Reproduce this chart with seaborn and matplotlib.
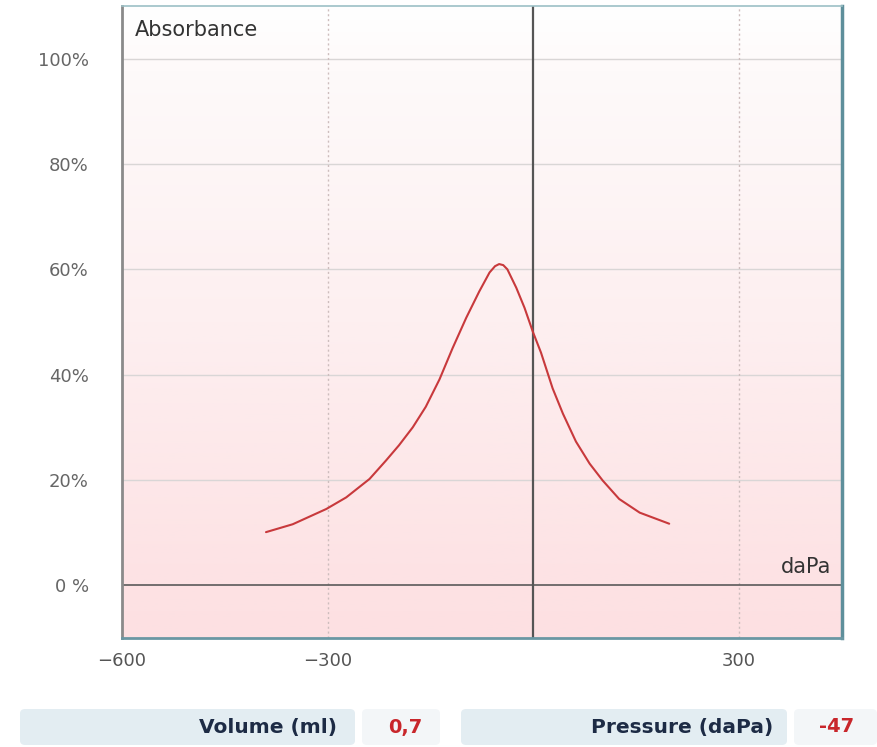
import numpy as np
import pandas as pd
import matplotlib
matplotlib.use("Agg")
import matplotlib.pyplot as plt
import seaborn as sns
from matplotlib.colors import LinearSegmentedColormap
from matplotlib.patches import FancyBboxPatch

# ---- data ----
pressure = [-390, -351, -302, -273, -239, -215, -196, -176, -157, -137, -118, -98, -79,
            -64, -56, -50, -44, -38, -25, -13, -1, 11, 28, 43, 62, 82, 101, 125, 155, 198]
absorbance = [10.1, 11.6, 14.5, 16.7, 20.2, 23.7, 26.6, 30.0, 33.9, 39.1, 45.0, 50.8, 55.8,
              59.4, 60.6, 61.0, 60.8, 60.0, 56.5, 52.7, 48.2, 44.2, 37.4, 32.6, 27.3, 23.1,
              19.9, 16.4, 13.8, 11.7]
y_ticks = [0, 20, 40, 60, 80, 100]
y_labels = ["0 %", "20%", "40%", "60%", "80%", "100%"]
x_ticks = [-600, -300, 300]
x_labels = ["\u2212600", "\u2212300", "300"]
table_labels = ["Volume (ml)", "Pressure (daPa)"]
table_values = ["0,7", "-47"]

df = pd.DataFrame({"pressure": pressure, "absorbance": absorbance})

sns.set_theme(style="white")
plt.rcParams["font.family"] = ["DejaVu Sans"]

fig = plt.figure(figsize=(8.77, 7.47), dpi=100)
ax = fig.add_axes([122 / 877, 1 - 638 / 747, (842 - 122) / 877, (638 - 6) / 747])

xmin, xmax, ymin, ymax = -600, 450, -10, 110

# gradient background
cmap = LinearSegmentedColormap.from_list(
    "bg", [(0.0, "#fde0e2"), (0.083, "#fde2e4"), (0.5, "#fdeff0"), (0.9, "#fefafa"), (1.0, "#ffffff")])
grad = np.linspace(0, 1, 256).reshape(-1, 1)
ax.imshow(grad, extent=[xmin, xmax, ymin, ymax], origin="lower", aspect="auto",
          cmap=cmap, zorder=0, interpolation="bilinear")

# grid
for yv in y_ticks[1:]:
    ax.axhline(yv, color="#d9d6d6", lw=1.0, zorder=1)
ax.axhline(0, color="#5a5a5a", lw=1.2, zorder=2)
for xv in [-300, 300]:
    ax.axvline(xv, color="#cdbdbd", lw=1.0, ls=(0, (1.5, 2)), zorder=1)
ax.axvline(0, color="#555555", lw=1.6, zorder=2)

sns.lineplot(data=df, x="pressure", y="absorbance", ax=ax, color="#c8393c", lw=1.5,
             sort=False, zorder=3)

ax.set_xlim(xmin, xmax)
ax.set_ylim(ymin, ymax)
ax.set_xticks(x_ticks)
ax.set_xticklabels(x_labels, color="#555555", fontsize=13)
ax.set_yticks(y_ticks)
ax.set_yticklabels(y_labels, color="#666666", fontsize=13)
ax.tick_params(axis="both", length=0)
ax.tick_params(axis="y", pad=24)
ax.tick_params(axis="x", pad=10)
ax.set_xlabel("")
ax.set_ylabel("")

ax.spines["left"].set_color("#8a8a8a")
ax.spines["left"].set_linewidth(2)
ax.spines["top"].set_color("#9cc0c6")
ax.spines["top"].set_linewidth(1.2)
ax.spines["right"].set_color("#5e8f9b")
ax.spines["right"].set_linewidth(2.5)
ax.spines["bottom"].set_color("#6a97a3")
ax.spines["bottom"].set_linewidth(2)

ax.text(0.018, 0.962, "Absorbance", transform=ax.transAxes, fontsize=15,
        color="#333333", va="center", ha="left")
ax.text(0.985, 0.112, "daPa", transform=ax.transAxes, fontsize=15,
        color="#333333", va="center", ha="right")

# table boxes
boxes = [(20, 355, "#e3edf2"), (362, 440, "#f3f6f8"), (461, 787, "#e3edf2"), (794, 877, "#f3f6f8")]
for x0, x1, c in boxes:
    p = FancyBboxPatch((x0 / 877, 2 / 747), (x1 - x0) / 877, 36 / 747,
                       boxstyle="round,pad=0,rounding_size=0.006",
                       transform=fig.transFigure, facecolor=c, edgecolor="none")
    fig.patches.append(p)

ty = 1 - 727 / 747
fig.text(337 / 877, ty, table_labels[0], ha="right", va="center", fontsize=14.5,
         fontweight="bold", color="#1d2b45")
fig.text(405 / 877, ty, table_values[0], ha="center", va="center", fontsize=14,
         fontweight="bold", color="#c8262b")
fig.text(773 / 877, ty, table_labels[1], ha="right", va="center", fontsize=14.5,
         fontweight="bold", color="#1d2b45")
fig.text(837 / 877, ty, table_values[1], ha="center", va="center", fontsize=14,
         fontweight="bold", color="#c8262b")

fig.savefig("out.png", dpi=100)
